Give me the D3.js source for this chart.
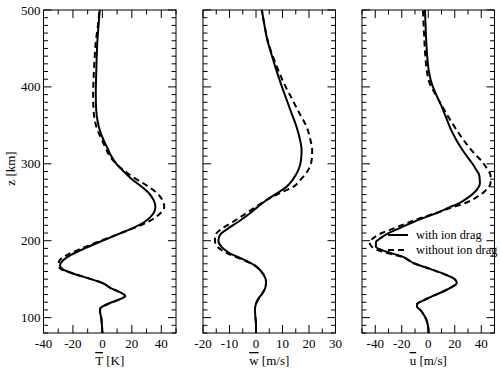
<!DOCTYPE html>
<html>
<meta charset="utf-8">
<head>
<script src="https://d3js.org/d3.v7.min.js"></script>
<style>
    body { margin: 0; background: #fff; }
    svg text { font-family: "Liberation Serif", "Times New Roman", "DejaVu Serif", serif; fill: #000; }
    .frame { fill: none; stroke: #000; stroke-width: 1px; }
    .tick { stroke: #000; stroke-width: 1px; }
    .curve { fill: none; stroke: #000; stroke-width: 2px; }
</style>
</head>
<body>
<script>
// altitude grid and profiles
var zTemp = [80,90,100,108,112,118,124,128,132,138,145,152,158,163,168,174,182,190,200,208,215,225,235,244,252,262,272,280,290,300,310,320,330,342,355,370,390,410,430,460,480,500];
var tempWith = [0,-0.3,-0.8,-1.6,-1.4,4,12,15.5,13,6,0,-11,-21,-27,-28.8,-27,-21,-12,0,10,19,29,34.5,36,35,31.5,25.5,20,14.5,9.5,6,3.5,1,-1.5,-3.2,-4.2,-4.5,-4.3,-4,-3.4,-2.6,-1.8];
var tempWithout = [0,-0.3,-0.8,-1.6,-1.4,4,12,15.5,13,6,0,-11,-21,-28,-29.8,-29.2,-23.5,-14,-1,10,19.5,31.5,39,42,41,37,30,23,15.5,9.5,5,2.3,0,-3,-5,-6,-6.3,-6,-5.5,-4.4,-3,-2];

var zW = [80,90,100,110,118,125,132,140,147,155,162,168,176,184,192,200,208,216,225,235,245,253,262,270,280,292,305,318,330,348,365,383,405,427,445,462,480,500];
var wWith = [0,0,-0.2,-0.4,0,1,2.5,3.6,3.8,3,1.5,-0.5,-5,-10,-13,-14.2,-13.5,-10.5,-6.5,-2.5,1,4,8,11.5,14,16,17,17.2,16.7,15.3,13.5,11.6,9.3,7.2,5.6,4.2,3.2,2.2];
var wWithout = [0,0,-0.2,-0.4,0,1,2.5,3.6,3.8,3,1.5,-0.5,-5.5,-11,-14.5,-15.5,-15.2,-12.7,-8.5,-4,0.3,4,9,14,17,19.7,21,21.2,20.6,19.1,16.5,13.8,10.5,7.8,5.8,4.3,3.2,2.2];

var zU = [80,90,97,104,110,114,118,122,127,133,139,145,150,156,163,170,179,186,192,198,204,210,216,223,230,236,243,249,256,264,275,285,293,301,315,330,345,360,375,390,405,420,440,470,500];
var uWith = [0.3,-0.3,-1.4,-3.5,-6,-8.5,-8.3,-4,2,10,17,21.5,20,13,2,-10,-19,-32,-39.5,-39.5,-35.5,-30,-22,-13,-3,6.5,15.5,23.5,30,35.5,39,38.5,36,33,27,21.5,17,13.5,10,6,2.5,0.5,-0.8,-1.8,-2.5];
var uWithout = [0.3,-0.3,-1.4,-3.5,-6,-8.5,-8.3,-4,2,10,17,21.5,20,13,2,-10,-20,-35,-42.5,-44.3,-41,-35,-26,-16,-5,6,17.5,28,36,42.5,47,47,44.5,41.5,34,27,21,15.5,10.5,5.5,1,-1,-2.2,-3.2,-4];

var zTicks = [100,200,300,400,500];
var legendLabels = ["with ion drag", "without ion drag"];

var panels = [
    {z: zTemp, a: tempWith, b: tempWithout, domain: [-40, 50], major: [-40,-20,0,20,40], step: 10, bar: "T", unit: " [K]"},
    {z: zW, a: wWith, b: wWithout, domain: [-20, 30], major: [-20,-10,0,10,20,30], step: 5, bar: "w", unit: " [m/s]"},
    {z: zU, a: uWith, b: uWithout, domain: [-50, 50], major: [-40,-20,0,20,40], step: 10, bar: "u", unit: " [m/s]"}
];

var W = 500, H = 370;
var plotTop = 10, plotBottom = 333, pw = 132.5;
var lefts = [43.5, 203, 362];
var bigTick = 8, smallTick = 4.5;
var fs = "13px";
var serif = "'Liberation Serif', 'Times New Roman', 'DejaVu Serif', serif";

var svg = d3.select("body").append("svg")
    .attr("width", W)
    .attr("height", H)
    .attr("font-family", serif);

var y = d3.scaleLinear().domain([80, 500]).range([plotBottom, plotTop]);
var zMinor = d3.range(80, 501, 10);

panels.forEach(function(p, i) {
    var x = d3.scaleLinear().domain(p.domain).range([lefts[i], lefts[i] + pw]);
    var g = svg.append("g");

    g.append("clipPath").attr("id", "clip" + i)
        .append("rect")
        .attr("x", x.range()[0]).attr("y", plotTop)
        .attr("width", pw).attr("height", plotBottom - plotTop);

    // x ticks on bottom and top, pointing inward
    var xMinor = d3.range(p.domain[0], p.domain[1] + 0.001, p.step);
    xMinor.forEach(function(v) {
        var len = p.major.indexOf(v) >= 0 ? bigTick : smallTick;
        g.append("line").attr("class", "tick")
            .attr("x1", x(v)).attr("x2", x(v))
            .attr("y1", plotBottom).attr("y2", plotBottom - len);
        g.append("line").attr("class", "tick")
            .attr("x1", x(v)).attr("x2", x(v))
            .attr("y1", plotTop).attr("y2", plotTop + len);
    });
    p.major.forEach(function(v) {
        g.append("text")
            .attr("x", x(v))
            .attr("y", plotBottom + 15)
            .attr("text-anchor", "middle")
            .style("font-size", fs)
            .text(v);
    });

    // z ticks on both sides
    zMinor.forEach(function(v) {
        var len = zTicks.indexOf(v) >= 0 ? bigTick : smallTick;
        g.append("line").attr("class", "tick")
            .attr("x1", x.range()[0]).attr("x2", x.range()[0] + len)
            .attr("y1", y(v)).attr("y2", y(v));
        g.append("line").attr("class", "tick")
            .attr("x1", x.range()[1]).attr("x2", x.range()[1] - len)
            .attr("y1", y(v)).attr("y2", y(v));
    });
    if (i == 0) {
        zTicks.forEach(function(v) {
            g.append("text")
                .attr("x", x.range()[0] - 3)
                .attr("y", y(v))
                .attr("dy", "0.35em")
                .attr("text-anchor", "end")
                .style("font-size", fs)
                .text(v);
        });
    }

    // profiles
    var line = d3.line()
        .x(function(d) { return x(d[1]); })
        .y(function(d) { return y(d[0]); })
        .curve(d3.curveMonotoneY);

    g.append("path")
        .attr("class", "curve")
        .attr("clip-path", "url(#clip" + i + ")")
        .attr("stroke-dasharray", "6,4")
        .attr("d", line(d3.zip(p.z, p.b)));
    g.append("path")
        .attr("class", "curve")
        .attr("clip-path", "url(#clip" + i + ")")
        .attr("d", line(d3.zip(p.z, p.a)));

    g.append("rect").attr("class", "frame")
        .attr("x", x.range()[0]).attr("y", plotTop)
        .attr("width", pw).attr("height", plotBottom - plotTop);

    // axis title with overbar
    var t = g.append("text")
        .attr("x", lefts[i] + pw / 2)
        .attr("y", plotBottom + 32)
        .attr("text-anchor", "middle")
        .style("font-size", fs);
    t.append("tspan").style("text-decoration", "overline").text(p.bar);
    t.append("tspan").text(p.unit);
});

// z label
svg.append("text")
    .attr("transform", "translate(15," + ((plotTop + plotBottom) / 2 - 3) + ") rotate(-90)")
    .attr("text-anchor", "middle")
    .style("font-size", fs)
    .text("z [km]");

// legend in the third panel
var leg = svg.append("g");
legendLabels.forEach(function(lab, k) {
    var ly = 235 + k * 15;
    leg.append("line")
        .attr("class", "curve")
        .attr("x1", 388).attr("x2", 408)
        .attr("y1", ly).attr("y2", ly)
        .attr("stroke-dasharray", k == 1 ? "6,4" : null);
    leg.append("text")
        .attr("x", 416)
        .attr("y", ly)
        .attr("dy", "0.35em")
        .style("font-size", "12.3px")
        .text(lab);
});
</script>
</body>
</html>
